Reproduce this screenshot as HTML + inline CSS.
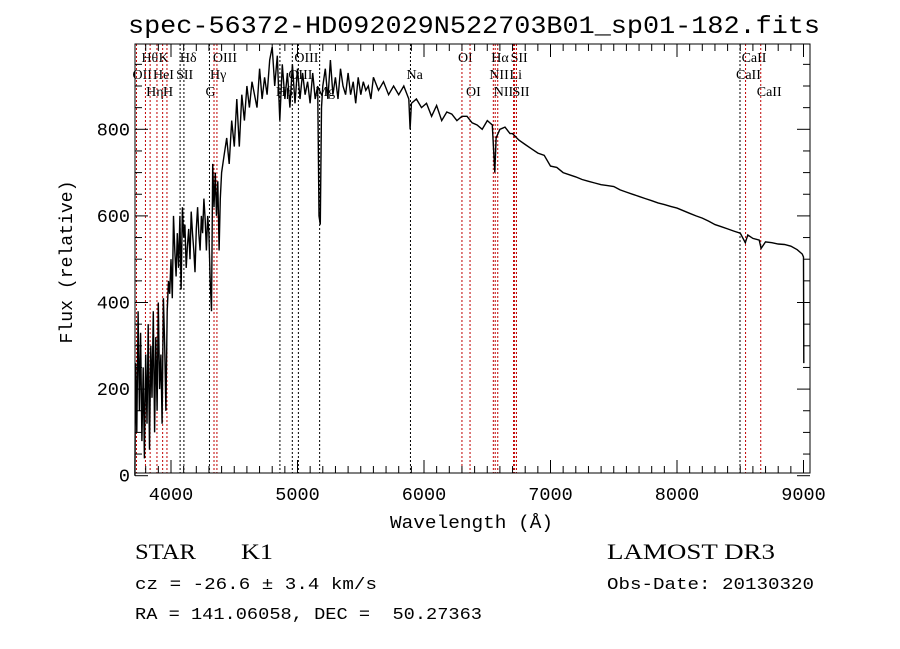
<!DOCTYPE html>
<html><head><meta charset="utf-8"><style>
body{margin:0;background:#fff;}
svg{display:block;}
text{font-family:"Liberation Mono",monospace;fill:#000;}
.ser{font-family:"Liberation Serif",serif;}
</style></head><body>
<svg id="chart" width="900" height="649" xmlns="http://www.w3.org/2000/svg">
<rect width="900" height="649" fill="#fff"/>
<text x="128" y="33" font-size="25" textLength="692" lengthAdjust="spacingAndGlyphs">spec-56372-HD092029N522703B01_sp01-182.fits</text>
<g id="lines"></g>
<g id="axes"></g>
<g id="spec"></g>
<text x="390" y="528" font-size="18" textLength="163" lengthAdjust="spacingAndGlyphs">Wavelength (Å)</text>
<text transform="translate(72,262) rotate(-90)" font-size="18" text-anchor="middle" textLength="163" lengthAdjust="spacingAndGlyphs">Flux (relative)</text>
<text class="ser" x="135" y="559" font-size="22" textLength="61" lengthAdjust="spacingAndGlyphs">STAR</text>
<text class="ser" x="241" y="559" font-size="22" textLength="32" lengthAdjust="spacingAndGlyphs">K1</text>
<text x="135" y="589" font-size="17" textLength="242" lengthAdjust="spacingAndGlyphs">cz = -26.6 ± 3.4 km/s</text>
<text x="135" y="619" font-size="17" xml:space="preserve" textLength="347" lengthAdjust="spacingAndGlyphs">RA = 141.06058, DEC =  50.27363</text>
<text class="ser" x="607" y="559" font-size="22" textLength="168" lengthAdjust="spacingAndGlyphs">LAMOST DR3</text>
<text x="607" y="589" font-size="17" textLength="207" lengthAdjust="spacingAndGlyphs">Obs-Date: 20130320</text>
</svg>
<script>
const wave=[3715,3720,3730,3740,3750,3760,3770,3780,3790,3800,3810,3820,3830,3840,3850,3860,3870,3880,3890,3900,3910,3920,3930,3940,3950,3960,3970,3980,3990,4000,4010,4020,4030,4040,4050,4060,4070,4080,4090,4100,4110,4120,4130,4140,4150,4160,4170,4180,4190,4200,4210,4220,4230,4240,4250,4260,4270,4280,4290,4300,4310,4320,4330,4340,4350,4360,4370,4380,4390,4400,4420,4440,4460,4480,4500,4520,4540,4560,4580,4600,4620,4640,4660,4680,4700,4720,4740,4760,4780,4800,4820,4840,4860,4880,4900,4920,4940,4960,4980,5000,5020,5040,5060,5080,5100,5120,5140,5160,5170,5180,5190,5200,5220,5240,5260,5280,5300,5320,5340,5360,5380,5400,5420,5440,5460,5480,5500,5520,5540,5560,5580,5600,5640,5680,5720,5760,5800,5840,5880,5890,5900,5940,5980,6020,6060,6100,6140,6180,6220,6260,6300,6340,6380,6420,6460,6500,6540,6560,6570,6600,6640,6680,6700,6750,6800,6850,6900,6950,7000,7050,7100,7150,7200,7250,7300,7350,7400,7450,7500,7550,7600,7650,7700,7750,7800,7850,7900,7950,8000,8050,8100,8150,8200,8250,8300,8350,8400,8450,8500,8540,8560,8600,8650,8665,8700,8750,8800,8850,8900,8950,8990,9000,9002];
const flux=[0,260,100,380,150,330,80,250,40,280,120,350,60,300,180,380,100,320,150,400,200,280,120,410,300,150,380,450,420,500,410,600,520,460,560,480,600,430,620,550,580,480,530,570,500,610,560,520,470,570,620,560,520,600,560,640,590,520,600,560,450,380,720,620,700,600,680,520,640,700,740,780,720,820,760,870,760,880,820,900,850,910,880,850,940,870,920,880,960,990,900,970,820,950,870,930,850,950,860,940,870,930,880,910,860,930,870,900,600,580,850,900,940,870,960,880,920,870,940,900,880,930,880,910,860,920,880,910,890,900,870,920,890,910,880,900,880,900,870,800,860,870,850,860,830,855,820,840,835,820,830,830,815,810,800,820,810,700,780,800,805,790,790,775,765,755,745,740,715,712,700,695,690,684,680,676,672,670,668,660,655,650,645,640,635,630,626,622,618,612,606,600,595,588,580,575,570,565,560,538,556,548,544,525,540,538,535,534,530,522,512,505,260];
const lineWave=[3727,3798,3835,3889,3934,3968,4072,4102,4304,4340,4363,4861,4959,5007,5175,5893,6300,6364,6548,6563,6583,6708,6716,6731,8498,8542,8662];
const lineLabel=["OII","Hθ","Hη","HeI","K","H","SII","Hδ","G","Hγ","OIII","Hβ","OIII","OIII","Mg","Na","OI","OI","NII","Hα","NII","Li","SII","SII","CaII","CaII","CaII"];
const lineRow=[1,0,2,1,0,2,1,0,2,1,0,2,1,0,2,1,0,2,1,0,2,1,0,2,1,0,2];
const lineRed=[1,1,1,1,1,1,0,0,0,1,1,0,0,0,0,0,1,1,1,1,1,1,1,1,0,1,1];
const xTicks=[4000,5000,6000,7000,8000,9000];
const yTicks=[0,200,400,600,800];
const L=135,R=810,T=44,B=473;
const X=w=>171+(w-4000)*0.1265;
const Y=f=>475.7-f*0.433;
const NS="http://www.w3.org/2000/svg";
function mk(tag,parent,attrs){const e=document.createElementNS(NS,tag);for(const k in attrs)e.setAttribute(k,attrs[k]);parent.appendChild(e);return e;}
const gl=document.getElementById('lines');
lineWave.forEach((w,i)=>{
  const l=mk('line',gl,{x1:X(w),x2:X(w),y1:T,y2:B,stroke:lineRed[i]?'#c00000':'#000','stroke-width':1,'stroke-dasharray':'2,2'});
  
  
  const t=mk('text',gl,{x:X(w)-4,y:62+lineRow[i]*17,'font-size':14,class:'ser'});
  t.textContent=lineLabel[i];
  
  
});
const ga=document.getElementById('axes');
mk('rect',ga,{x:L,y:T,width:R-L,height:B-T,fill:'none',stroke:'#000','stroke-width':1});
for(let w=3800;w<=9000;w+=100){const maj=w%1000===0;const h=maj?13:7;
  mk('line',ga,{x1:X(w),x2:X(w),y1:B,y2:B-h,stroke:'#000'});mk('line',ga,{x1:X(w),x2:X(w),y1:T,y2:T+h,stroke:'#000'});}
for(let f=0;f<=950;f+=50){const maj=f%200===0;const h=maj?13:7;
  mk('line',ga,{x1:L,x2:L+h,y1:Y(f),y2:Y(f),stroke:'#000'});mk('line',ga,{x1:R,x2:R-h,y1:Y(f),y2:Y(f),stroke:'#000'});}
xTicks.forEach(v=>{const t=mk('text',ga,{x:X(v),y:500,'font-size':18.5,'text-anchor':'middle'});t.textContent=v;
  
  });
yTicks.forEach(v=>{const t=mk('text',ga,{x:130,y:Y(v)+6,'font-size':18.5,'text-anchor':'end'});t.textContent=v;
  
  });
const gs=document.getElementById('spec');
let d='';wave.forEach((w,i)=>{d+=(i?'L':'M')+X(w).toFixed(1)+','+Math.max(T,Y(flux[i])).toFixed(1);});
const p=mk('path',gs,{d:d,fill:'none',stroke:'#000','stroke-width':1.4});


</script>
</body></html>
